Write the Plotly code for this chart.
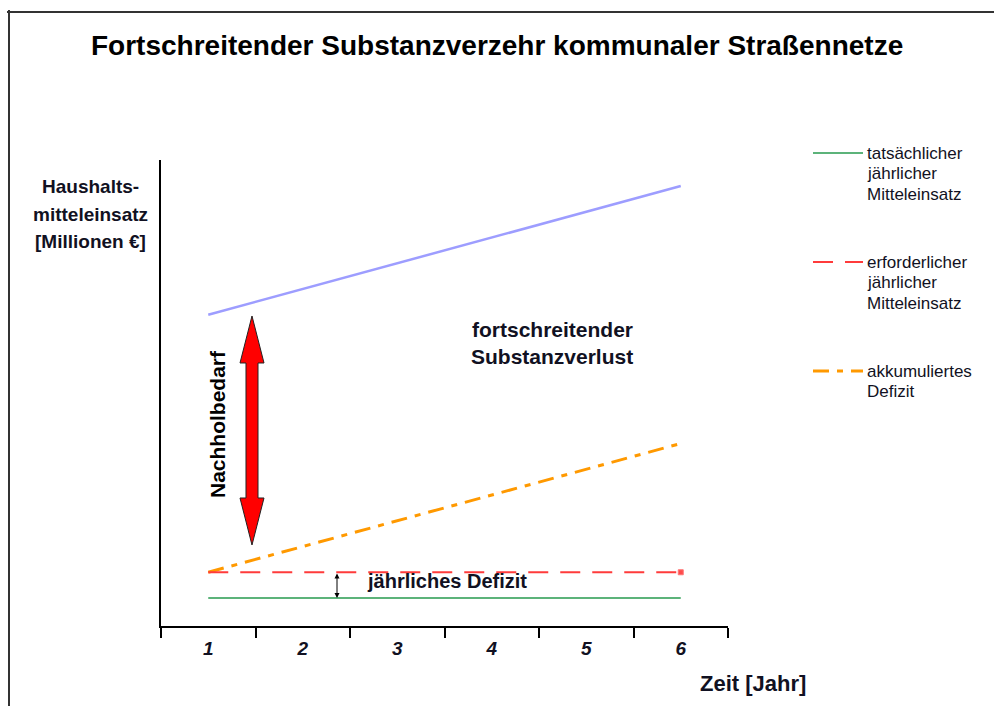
import plotly.graph_objects as go

# ---- data ----
years = [1, 2, 3, 4, 5, 6]
year_labels = ["1", "2", "3", "4", "5", "6"]
actual_spend = [1, 1, 1, 1, 1, 1]            # tatsächlicher jährlicher Mitteleinsatz
required_spend = [2, 2, 2, 2, 2, 2]          # erforderlicher jährlicher Mitteleinsatz
accumulated_deficit = [2, 3, 4, 5, 6, 7]     # akkumuliertes Defizit
backlog_top = [12, 13, 14, 15, 16, 17]       # fortschreitender Substanzverlust (Obergrenze)

title = "Fortschreitender Substanzverzehr kommunaler Straßennetze"
legend_items = [
    ("tatsächlicher|jährlicher|Mitteleinsatz", "#5cb37a", "solid", 2),
    ("erforderlicher|jährlicher|Mitteleinsatz", "#ff3b3b", "20px,12px", 2),
    ("akkumuliertes|Defizit", "#ff9900", "16px,8px,6px,8px", 3),
]

# ---- geometry helpers (pixel -> paper) ----
W, H = 994, 706
L, R, T, B = 161, 728, 160, 626
def px(x):
    return (x - L) / (R - L)
def py(y):
    return (B - y) / (B - T)

FONT = "Liberation Sans, Arial, sans-serif"
TXT = "#111122"

fig = go.Figure()
fig.add_trace(go.Scatter(x=years, y=backlog_top, mode="lines",
                         line=dict(color="#9d9dff", width=2.5), hoverinfo="skip"))
fig.add_trace(go.Scatter(x=years, y=accumulated_deficit, mode="lines",
                         line=dict(color="#ff9900", width=3, dash="16px,8px,6px,8px"), hoverinfo="skip"))
fig.add_trace(go.Scatter(x=years, y=required_spend, mode="lines+markers",
                         line=dict(color="#ff3b3b", width=2, dash="20px,12px"),
                         marker=dict(symbol="square", color="#ff0000",
                                     size=[0, 0, 0, 0, 0, 5]), hoverinfo="skip"))
fig.add_trace(go.Scatter(x=years, y=actual_spend, mode="lines",
                         line=dict(color="#5cb37a", width=2), hoverinfo="skip"))

shapes = []
annotations = []

# frame lines
shapes.append(dict(type="line", xref="paper", yref="paper", x0=px(7), x1=px(994), y0=py(12), y1=py(12),
                   line=dict(color="#333333", width=2)))
shapes.append(dict(type="line", xref="paper", yref="paper", x0=px(9), x1=px(9), y0=py(10), y1=py(706),
                   line=dict(color="#333333", width=2)))

# red double arrow (Nachholbedarf)
cx, top, bot, hl, hw, sw = 252, 316, 545, 47, 12, 6
pts = [(cx, top), (cx + hw, top + hl), (cx + sw, top + hl), (cx + sw, bot - hl), (cx + hw, bot - hl),
       (cx, bot), (cx - hw, bot - hl), (cx - sw, bot - hl), (cx - sw, top + hl), (cx - hw, top + hl)]
path = "M " + " L ".join(f"{px(a):.5f},{py(b):.5f}" for a, b in pts) + " Z"
shapes.append(dict(type="path", xref="paper", yref="paper", path=path,
                   fillcolor="#ff0000", line=dict(color="#222222", width=1)))

# legend samples and texts
leg_y = [153, 262, 371]
for (text, color, dash, width), y in zip(legend_items, leg_y):
    shapes.append(dict(type="line", xref="paper", yref="paper", x0=px(813), x1=px(863), y0=py(y), y1=py(y),
                       line=dict(color=color, width=width, dash=dash)))
    for i, line in enumerate(text.split("|")):
        annotations.append(dict(xref="paper", yref="paper", x=px(865), y=py(y + i * 20.5),
                                xanchor="left", yanchor="middle", showarrow=False, text=line,
                                font=dict(family=FONT, size=17, color=TXT)))

# title
annotations.append(dict(xref="paper", yref="paper", x=px(497), y=py(45), xanchor="center", yanchor="middle",
                        showarrow=False, text=f"<b>{title}</b>",
                        font=dict(family=FONT, size=28, color="#000000")))

# y-axis title
for i, line in enumerate(["Haushalts-", "mitteleinsatz", "[Millionen €]"]):
    annotations.append(dict(xref="paper", yref="paper", x=px(90), y=py(187 + i * 27),
                            xanchor="center", yanchor="middle", showarrow=False, text=f"<b>{line}</b>",
                            font=dict(family=FONT, size=19, color=TXT)))

# x-axis title
annotations.append(dict(xref="paper", yref="paper", x=px(753), y=py(683), xanchor="center", yanchor="middle",
                        showarrow=False, text="<b>Zeit [Jahr]</b>",
                        font=dict(family=FONT, size=22, color=TXT)))

# inner labels
for i, line in enumerate(["fortschreitender", "Substanzverlust"]):
    annotations.append(dict(xref="paper", yref="paper", x=px(552), y=py(329 + i * 27),
                            xanchor="center", yanchor="middle", showarrow=False, text=f"<b>{line}</b>",
                            font=dict(family=FONT, size=21, color=TXT)))
annotations.append(dict(xref="paper", yref="paper", x=px(447), y=py(581), xanchor="center", yanchor="middle",
                        showarrow=False, text="<b>jährliches Defizit</b>",
                        font=dict(family=FONT, size=20, color=TXT)))
annotations.append(dict(xref="paper", yref="paper", x=px(217), y=py(424), xanchor="center", yanchor="middle",
                        showarrow=False, text="<b>Nachholbedarf</b>", textangle=-90,
                        font=dict(family=FONT, size=21, color="#000000")))

# small double arrow (jährliches Defizit)
annotations.append(dict(xref="paper", yref="paper", x=px(337), y=py(598), ax=0, ay=-26,
                        axref="pixel", ayref="pixel", showarrow=True, text="",
                        arrowside="end+start", arrowhead=2, arrowsize=1, arrowwidth=1,
                        arrowcolor="#000000", standoff=0, startstandoff=0))

fig.update_layout(
    width=W, height=H, autosize=False,
    margin=dict(l=L, r=W - R, t=T, b=H - B, pad=0),
    paper_bgcolor="white", plot_bgcolor="white",
    showlegend=False,
    shapes=shapes, annotations=annotations,
    xaxis=dict(range=[0.5, 6.5], tickmode="array", tickvals=years, ticktext=[f"<b><i>{t}</i></b>" for t in year_labels],
               ticks="outside", ticklen=4, tickcolor="rgba(0,0,0,0)",
               showline=True, linecolor="#000000", linewidth=2, showgrid=False, zeroline=False,
               tickfont=dict(family=FONT, size=19, color=TXT),
               minor=dict(tickmode="array", tickvals=[0.5, 1.5, 2.5, 3.5, 4.5, 5.5, 6.5],
                          ticks="outside", ticklen=10, tickwidth=2, tickcolor="#000000", showgrid=False)),
    yaxis=dict(range=[-0.087, 18.01], showline=True, linecolor="#000000", linewidth=2,
               showticklabels=False, ticks="", showgrid=False, zeroline=False),
)

fig.write_html("out.html", config={"displayModeBar": False, "staticPlot": True},
               post_script="document.body.style.margin='0';document.body.style.overflow='hidden';")
